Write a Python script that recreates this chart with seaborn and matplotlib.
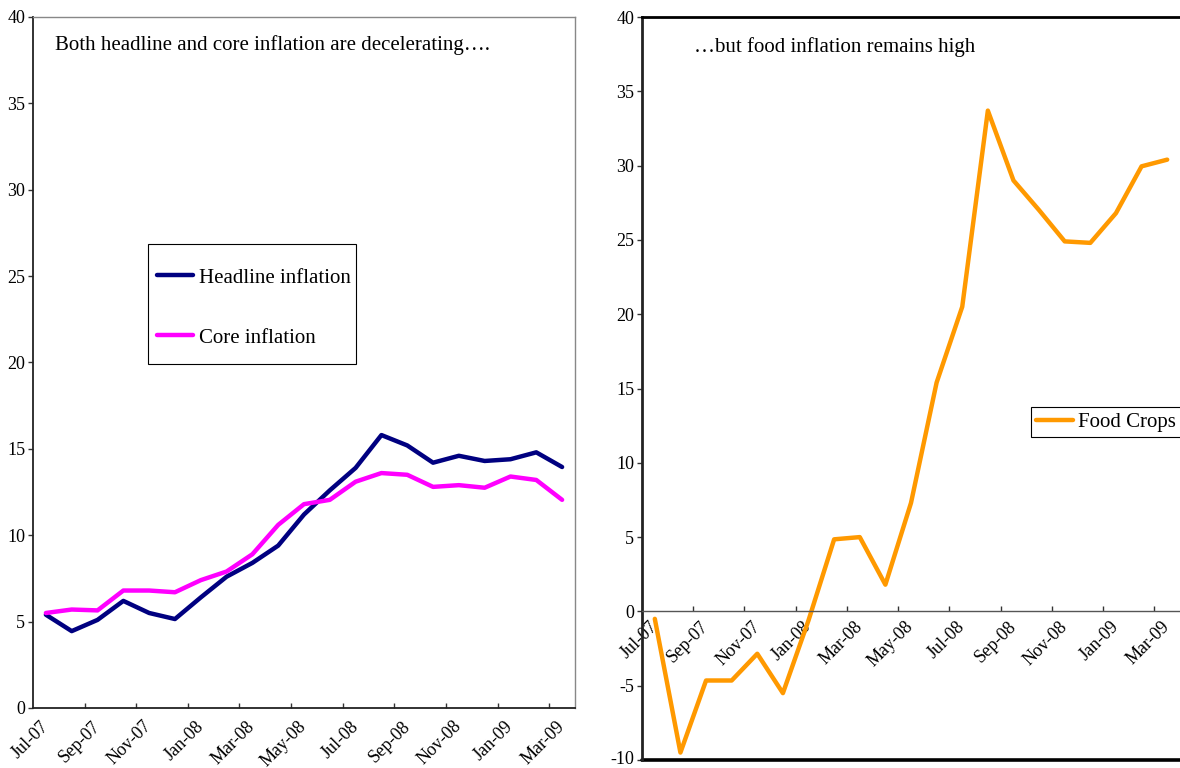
import matplotlib
matplotlib.use("Agg")
import matplotlib.pyplot as plt
import matplotlib.transforms as mtransforms
from matplotlib.patches import Rectangle
import numpy as np
import pandas as pd
import seaborn as sns

months = ["Jul-07", "Aug-07", "Sep-07", "Oct-07", "Nov-07", "Dec-07",
          "Jan-08", "Feb-08", "Mar-08", "Apr-08", "May-08", "Jun-08",
          "Jul-08", "Aug-08", "Sep-08", "Oct-08", "Nov-08", "Dec-08",
          "Jan-09", "Feb-09", "Mar-09"]

headline = [5.4, 4.45, 5.1, 6.2, 5.5, 5.15, 6.4, 7.6, 8.4, 9.4, 11.2, 12.6,
            13.9, 15.8, 15.2, 14.2, 14.6, 14.3, 14.4, 14.8, 13.95]
core = [5.5, 5.7, 5.65, 6.8, 6.8, 6.7, 7.4, 7.9, 8.9, 10.6, 11.8, 12.05,
        13.1, 13.6, 13.5, 12.8, 12.9, 12.75, 13.4, 13.2, 12.05]
food = [-0.5, -9.5, -4.65, -4.65, -2.85, -5.5, -0.6, 4.85, 5.0, 1.8, 7.3,
        15.4, 20.5, 33.7, 29.0, 27.0, 24.9, 24.8, 26.8, 29.95, 30.4]

df = pd.DataFrame({"pos": np.arange(len(months)), "month": months,
                   "Headline inflation": headline, "Core inflation": core,
                   "Food Crops": food})

sns.set_theme(style="white")
plt.rcParams["font.family"] = ["Liberation Serif", "DejaVu Serif"]
plt.rcParams["axes.unicode_minus"] = False
plt.rcParams["text.color"] = "black"
plt.rcParams["xtick.color"] = "black"
plt.rcParams["ytick.color"] = "black"
plt.rcParams["xtick.labelcolor"] = "black"
plt.rcParams["ytick.labelcolor"] = "black"

fig = plt.figure(figsize=(11.8, 7.68), dpi=100)
ax1 = fig.add_axes([33 / 1180, 1 - 708 / 768, 542 / 1180, 691 / 768])
ax2 = fig.add_axes([642 / 1180, 1 - 760 / 768, 538 / 1180, 743 / 768])

n = len(months)
label_pos = np.arange(0, n, 2)
mark_pos = np.arange(1.5, n - 1, 2)
TICK_FS = 13
TEXT_FS = 15


def style_axis(ax, ylo, yhi, frame_color):
    ax.set_xlim(-0.5, n - 0.5)
    ax.set_ylim(ylo, yhi)
    ax.set_yticks(np.arange(ylo, yhi + 1, 5))
    ax.set_xticks(label_pos)
    ax.set_xticklabels([months[i] for i in label_pos], rotation=45,
                       ha="right", rotation_mode="anchor", fontsize=TICK_FS)
    ax.set_xticks(mark_pos, minor=True)
    ax.tick_params(axis="x", which="major", length=0, pad=7,
                   labelcolor="black")
    ax.tick_params(axis="x", which="minor", direction="in", length=3.6,
                   width=1, color="#333333", bottom=True)
    ax.tick_params(axis="y", direction="out", length=3.6, width=1,
                   color="#333333", left=True, labelsize=TICK_FS, pad=2,
                   labelcolor="black")
    for side in ["top", "right"]:
        ax.spines[side].set_color(frame_color)
        ax.spines[side].set_linewidth(1)
    for side in ["left", "bottom"]:
        ax.spines[side].set_color("#222222")
        ax.spines[side].set_linewidth(1.3)
    ax.set_xlabel("")
    ax.set_ylabel("")
    ax.grid(False)


def shift_labels(labels, dx_px, dy_px=0):
    off = mtransforms.ScaledTranslation(dx_px / 100, dy_px / 100,
                                        fig.dpi_scale_trans)
    for lab in labels:
        lab.set_transform(lab.get_transform() + off)


# left panel
sns.lineplot(data=df, x="pos", y="Headline inflation", ax=ax1,
             color="#000080", linewidth=3.2, label="Headline inflation")
sns.lineplot(data=df, x="pos", y="Core inflation", ax=ax1,
             color="#FF00FF", linewidth=3.2, label="Core inflation")
style_axis(ax1, 0, 40, "#888888")
shift_labels(ax1.get_xticklabels(), -6)
ax1.text(0.041, 0.959, "Both headline and core inflation are decelerating\u2026.",
         transform=ax1.transAxes, fontsize=TEXT_FS, va="center", ha="left",
         color="black")
ax1.legend(loc="upper left", bbox_to_anchor=(157 / 1180, 1 - 268 / 768),
           bbox_transform=fig.transFigure, borderaxespad=0,
           fontsize=TEXT_FS, labelspacing=1.95, handlelength=1.75,
           handletextpad=0.25, borderpad=0, frameon=False,
           labelcolor="black")
fig.patches.append(Rectangle((148 / 1180, 1 - 364 / 768), 208 / 1180, 120 / 768,
                             transform=fig.transFigure, fill=False,
                             edgecolor="black", linewidth=0.8, zorder=5))

# right panel
sns.lineplot(data=df, x="pos", y="Food Crops", ax=ax2,
             color="#FF9900", linewidth=3.2, label="Food Crops")
ax2.spines["bottom"].set_position(("data", 0))
style_axis(ax2, -10, 40, "black")
ax2.spines["top"].set_linewidth(2)
ax2.spines["right"].set_visible(False)
ax2.spines["bottom"].set_color("#555555")
ax2.spines["bottom"].set_linewidth(1)
ax2.spines["left"].set_linewidth(2)
ax2.axhline(-10, color="black", linewidth=2.6, clip_on=False)
ax2.tick_params(axis="x", which="major", pad=5)
shift_labels(ax2.get_xticklabels(), -6)
shift_labels(ax2.get_yticklabels()[:1], 0, 2)
ax2.text(0.097, 0.96, "\u2026but food inflation remains high",
         transform=ax2.transAxes, fontsize=TEXT_FS, va="center", ha="left",
         color="black")
leg2 = ax2.legend(loc="upper left", bbox_to_anchor=(1031 / 1180, 1 - 407 / 768),
                  bbox_transform=fig.transFigure, borderaxespad=0,
                  fontsize=TEXT_FS, handlelength=1.75, handletextpad=0.25,
                  borderpad=0.25, fancybox=False, frameon=True,
                  edgecolor="black", framealpha=1, labelcolor="black")
leg2.get_frame().set_linewidth(0.8)

fig.savefig("out.png", dpi=100)
